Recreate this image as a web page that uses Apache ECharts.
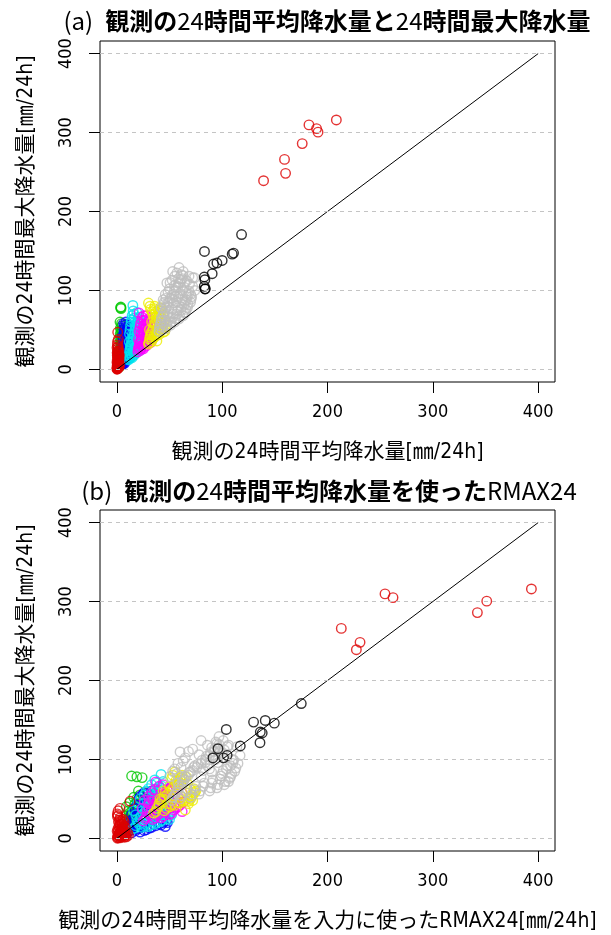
<!DOCTYPE html>
<html>
<head>
<meta charset="utf-8">
<script src="https://cdn.jsdelivr.net/npm/echarts@6/dist/echarts.min.js"></script>
<style>
  html, body { margin: 0; padding: 0; background: #fff; }
  #chart { width: 611px; height: 935px; }
</style>
</head>
<body>
<div id="chart"></div>
<script>
// Station events grouped into nine classes of observed 24h mean rainfall.
// Each row: [observed 24h mean, observed 24h max, RMAX24 from observed mean]  (mm/24h)
const class1Red = [
  [0.1,0.2,0.5],[0.2,0.8,1.2],[0.3,1.5,0.8],[0.4,2.5,2],[0.5,0.6,3],[0.6,3.5,1.5],
  [0.7,1.8,4],[0.8,5,2.5],[0.9,2.8,5.5],[1.0,7,3],[1.1,4.2,6.5],[1.2,9,4],
  [1.3,1.5,7],[1.4,6,7.5],[1.5,11,5],[1.6,3.5,8],[1.7,8,6],[1.8,13,4.5],
  [1.9,5.5,8.5],[2.0,10,7],[0.4,12,1],[0.6,15,2],[0.9,17,3],[1.2,19,4.5],
  [1.5,16,6],[2.1,14,8],[2.2,7,10],[0.3,21,1.5],[0.7,23,2.5],[1.0,26,3],
  [1.3,29,1],[0.5,31,0.5],[0.8,47,12.6],[0.2,27.5,0.6],[1.6,21,7],[2.3,3,3.5],
  [0.1,9,0.3],[2.4,18,5],[2.0,4,11],[1.1,2,9],
  [0.2,4,1],[0.5,6,2],[0.9,9,1.5],[1.3,12,3],[1.7,15,5],[2.1,5,6],
  [0.4,18,2.5],[1.1,22,4],[1.9,24,6],[0.6,35,1.2],[1.4,38,3]
];
const class2Green = [
  [2.5,3,4],[2.7,5,6],[2.9,8,5],[3.0,11,8],[3.1,14,7],[3.2,6,9],[3.4,18,10],
  [3.5,22,11],[3.6,9,10.5],[3.7,26,12],[3.8,30,13],[3.9,15,12.5],[4.0,34,14],
  [4.1,20,15],[4.2,38,16],[4.3,12,14],[4.4,43,17],[4.5,28,18],[4.6,48,20],
  [4.7,55,22],[3.0,60,20.5],[3.3,52,16],[3.8,79,14],[3.6,78,19],[4.0,77,24],
  [2.8,40,9],[4.8,36,21],[3.2,45,12],[4.9,50,27],[4.4,58,29],
  [2.6,4,5],[2.8,7,7],[3.0,10,6],[3.2,13,9],[3.4,16,8],[3.6,20,11],[3.8,24,10],
  [4.0,28,13],[4.2,32,12],[4.4,25,16],[4.6,40,18],[4.8,45,23],[3.5,35,11],[4.1,50,19]
];
const class3Blue = [
  [5,6,8],[5.2,9,10],[5.5,12,12],[5.8,16,11],[6,7,14],[6.2,20,15],[6.5,10,18],
  [6.8,24,17],[7,13,20],[7.2,28,19],[7.5,8,22],[7.8,32,21],[8,17,25],[8.2,36,23],
  [8.5,11,28],[8.8,40,25],[9,21,30],[9.2,44,27],[9.5,14,33],[9.8,48,30],
  [10,26,35],[10.3,52,32],[10.6,18,40],[11,56,30],[11.3,31,42],[11.6,22,47],
  [12,38,45],[6.4,58,26],[7.6,53,22],[8.6,60,33],[9.6,35,38],[10.8,45,40],
  [5.4,42,19],[12.3,15,46],[7.0,46,28],[8.4,30,36],
  [5.1,7.5,9],[5.3,11,13],[5.6,14,10],[5.9,18,16],[6.1,9,12],[6.3,22,13],[6.6,12,20],
  [6.9,26,16],[7.1,15,24],[7.4,30,18],[7.7,10,26],[7.9,34,24],[8.1,19,27],[8.3,38,20],
  [8.7,13,31],[8.9,42,28],[9.1,23,34],[9.4,46,29],[9.7,16,37],[9.9,50,34],
  [10.2,28,38],[10.5,54,36],[10.8,20,44],[11.2,33,39],[11.5,24,43],[11.9,40,41],
  [12.2,17,42],[12.6,29,45],[6.7,50,21],[7.3,56,25],[8.0,48,30],[9.3,57,36],
  [5.7,30,14],[6.0,38,17],[12.8,45,38],[13.0,20,48]
];
const class4Cyan = [
  [11,12,15],[11.5,16,18],[12,21,20],[12.5,14,24],[13,26,22],[13.5,18,27],
  [14,31,25],[14.5,15,30],[15,36,28],[15.5,22,33],[16,41,30],[16.5,18,36],
  [17,46,33],[17.5,27,38],[18,51,36],[18.5,21,41],[19,56,38],[19.5,33,44],
  [20,61,40],[20.5,25,47],[21,66,43],[21.5,38,50],[12,45,20],[13,55,26],
  [14,63,30],[15.2,81,42],[16,70,38],[13.5,38,24],[18,30,45],[20,45,48],
  [22,30,52],[11.8,35,16],[17,60,35],[19,72,44],
  [11.2,13,17],[11.7,18,21],[12.2,24,19],[12.7,16,26],[13.2,29,23],[13.7,20,29],
  [14.2,34,27],[14.7,17,32],[15.2,39,30],[15.7,25,35],[16.2,44,32],[16.7,20,38],
  [17.2,49,35],[17.7,29,40],[18.2,54,38],[18.7,23,43],[19.2,59,40],[19.7,35,46],
  [20.2,64,42],[20.7,28,49],[21.2,42,45],[21.7,33,51],[12.5,50,22],[13.5,60,28],
  [14.5,68,33],[15.5,74,36],[16.5,65,40],[17.5,55,42],[18.5,40,47],[19.5,48,50],
  [20.5,55,46],[12.8,30,18],[14.8,45,26],[16.8,33,43],[21.8,50,48],[22.0,24,50]
];
const class5Magenta = [
  [20,22,25],[20.8,27,28],[21.5,32,30],[22.2,24,34],[23,37,33],[23.8,29,38],
  [24.5,42,36],[25.2,26,42],[26,47,40],[26.8,33,45],[27.5,52,43],[28.2,30,50],
  [29,57,47],[29.8,36,54],[30.5,62,50],[31.2,40,58],[32,34,62],[21,48,26],
  [22.5,58,33],[24,66,40],[21,71.5,37],[25,55,45],[27,39,52],[29,45,56],
  [30.5,50,60],[23,44,30],[26,62,48],[28,68,55],[31,46,63],
  [20.3,25,27],[21.0,29,32],[21.8,35,29],[22.6,26,36],[23.4,40,35],[24.2,31,40],
  [24.9,45,38],[25.6,28,44],[26.4,50,42],[27.2,35,47],[27.9,55,45],[28.6,32,52],
  [29.4,60,49],[30.2,38,56],[31.0,65,52],[31.6,42,60],[22.0,53,30],[23.5,62,36],
  [25.5,68,44],[27.5,63,50],[29.5,53,58],[31.5,57,62],[24.5,50,34],[26.5,57,46],
  [28.5,42,54],[20.5,38,24],[22.8,47,31]
];
const class6Yellow = [
  [30,32,35],[31,38,38],[32,44,40],[33,35,45],[34,50,43],[35,40,50],[36,56,48],
  [37,42,55],[38,62,52],[39,45,60],[40,68,57],[41,48,65],[42,74,60],[43,50,70],
  [44,55,72],[45,60,75],[46,52,70],[30,84,55],[32,76,52],[34,70,58],[36,80,62],
  [38,36,65],[40,44,68],[42,58,73],[44,47,68],[33,60,44],[35,66,50],[37,73,58],
  [39,52,62],[41,78,66],
  [30.5,34,37],[31.5,41,40],[32.5,47,42],[33.5,38,47],[34.5,53,45],[35.5,43,52],
  [36.5,59,50],[37.5,45,57],[38.5,65,54],[39.5,48,62],[40.5,71,59],[41.5,51,67],
  [42.5,77,62],[43.5,53,71],[44.5,58,74],[45.5,63,73],[31.5,80,53],[33.5,73,56],
  [35.5,77,60],[37.5,68,61],[39.5,75,64],[41.5,62,70],[43.5,69,67],[45.5,48,72],
  [31,50,41],[33,44,48],[35,58,46]
];
const class7Gray = [
  [40,48,52],[41,55,55],[42,62,58],[43,50,60],[44,68,62],[45,58,66],[46,74,64],
  [47,52,70],[48,80,68],[49,62,74],[50,86,72],[51,56,78],[52,90,76],[53,66,82],
  [54,95,80],[55,60,88],[56,100,84],[57,70,90],[58,105,88],[59,64,95],[60,110,92],
  [61,75,98],[62,115,96],[63,68,102],[64,82,100],[65,72,106],[66,88,104],[67,78,108],
  [68,95,110],[70,85,112],[72,116,114],[74,100,110],[59,129,97],[73.7,116,105],
  [58.6,115,90],[47.5,109.5,60],[44,88,55],[46,95,58],[50,102,65],[52,76,62],
  [54,84,70],[56,92,74],[58,78,80],[60,96,84],[62,88,88],[64,104,92],[66,96,96],
  [48,70,58],[42,78,50],[45,85,53],[55,118,86],[57,122,94],[63,124,101],
  [69,108,100],[71,92,108],
  [40.5,52,53],[41.5,58,56],[42.5,66,59],[43.5,54,61],[44.5,72,63],[45.5,62,67],
  [46.5,78,65],[47.5,56,71],[48.5,84,69],[49.5,66,75],[50.5,90,73],[51.5,60,79],
  [52.5,94,77],[53.5,70,83],[54.5,99,81],[55.5,64,89],[56.5,104,85],[57.5,74,91],
  [58.5,109,89],[59.5,68,96],[60.5,114,93],[61.5,79,99],[62.5,119,97],[63.5,72,103],
  [64.5,86,101],[65.5,76,107],[66.5,92,105],[67.5,82,109],[68.5,99,111],[70.5,89,113],
  [44.5,82,57],[46.5,90,61],[48.5,98,63],[50.5,110,68],[52.5,113,72],[54.5,106,78],
  [56.5,86,82],[58.5,92,86],[60.5,84,90],[62.5,100,94],[64.5,110,98],[66.5,112,102],
  [68.5,118,106],[53,124,80],[61,120,95],[70,95,115],[72,105,117]
];
const class8Black = [
  [118.4,170.8,175.1],[83.2,149.4,140.9],[110.8,147.3,129.8],[109.5,146,149.5],
  [100,138,103.9],[95,134.7,136.2],[91.8,133.5,138],[90.5,121.2,135.9],
  [83,117,117.2],[83.6,113.6,96],[83,105.2,104.7],[83.6,101.9,91.2],[84,102,101.3]
];
const class9Red = [
  [139.3,239,227.4],[160.2,248.3,230.9],[159.2,266,213.1],[176,286,342.3],
  [182.4,309.7,254.6],[189.6,305,262.2],[191,300.5,351.2],[208.4,316,393.6]
];
const axisTicks = [0, 100, 200, 300, 400];
const identityLine = [[0, 0], [400, 400]];

const titleA = ['(a)', '観測の', '24', '時間平均降水量と', '24', '時間最大降水量'];
const titleB = ['(b)', '観測の', '24', '時間平均降水量を使った', 'RMAX24'];
const xNameA = '観測の24時間平均降水量[㎜/24h]';
const xNameB = '観測の24時間平均降水量を入力に使ったRMAX24[㎜/24h]';
const yName = '観測の24時間最大降水量[㎜/24h]';

// drawing order: later entries are painted on top
const layers = [
  { rows: class2Green,   color: '#00c800' },
  { rows: class3Blue,    color: '#0000ff' },
  { rows: class4Cyan,    color: '#00e5ee' },
  { rows: class5Magenta, color: '#ff00ff' },
  { rows: class6Yellow,  color: '#eeee00' },
  { rows: class7Gray,    color: '#bebebe' },
  { rows: class8Black,   color: '#000000' },
  { rows: class9Red,     color: '#dd0000' },
  { rows: class1Red,     color: '#dd0000' }
];

const LATIN = "'Liberation Sans Narrow','DejaVu Sans Condensed','Liberation Sans','Noto Sans CJK JP',sans-serif";
const CJK = "'Noto Sans CJK JP','Noto Sans CJK SC',sans-serif";

const panels = [
  { top: 41,  xName: xNameA, pick: r => [r[0], r[1]] },
  { top: 510, xName: xNameB, pick: r => [r[2], r[1]] }
];

const grids = panels.map(p => ({
  left: 100, top: p.top, width: 455, height: 341,
  show: true, borderColor: '#000', borderWidth: 1, backgroundColor: 'transparent'
}));

function axisCommon(idx) {
  return {
    type: 'value', gridIndex: idx, min: -16, max: 416,
    axisLine: { show: false, onZero: false },
    axisTick: { show: true, customValues: axisTicks, length: 11, lineStyle: { color: '#000', width: 1 } },
    splitLine: { show: false },
    nameTextStyle: { fontFamily: LATIN, fontSize: 21, color: '#000' }
  };
}

const xAxes = panels.map((p, i) => Object.assign(axisCommon(i), {
  name: p.xName, nameLocation: 'middle', nameGap: 60,
  axisLabel: { customValues: axisTicks, margin: 21, fontFamily: LATIN, fontSize: 18, color: '#000' }
}));
const yAxes = panels.map((p, i) => Object.assign(axisCommon(i), {
  name: yName, nameLocation: 'middle', nameGap: 63, nameRotate: 90,
  axisLabel: { customValues: axisTicks, margin: 25, rotate: 90, fontFamily: LATIN, fontSize: 18, color: '#000' }
}));

const series = [];
panels.forEach((p, i) => {
  // dashed horizontal guides
  series.push({
    type: 'scatter', xAxisIndex: i, yAxisIndex: i, data: [], z: 1, silent: true,
    markLine: {
      silent: true, symbol: 'none', animation: false,
      label: { show: false },
      lineStyle: { color: '#c4c4c4', type: [4, 4], width: 1 },
      data: axisTicks.map(v => ({ yAxis: v }))
    }
  });
  layers.forEach(l => {
    series.push({
      type: 'scatter', xAxisIndex: i, yAxisIndex: i, z: 2, silent: true,
      symbol: 'circle', symbolSize: 9.5, large: false,
      itemStyle: { color: 'rgba(0,0,0,0)', borderColor: l.color, borderWidth: 1.4 },
      data: l.rows.map(p.pick)
    });
  });
  // 1:1 reference line
  series.push({
    type: 'line', xAxisIndex: i, yAxisIndex: i, z: 3, silent: true,
    data: identityLine, symbol: 'none',
    lineStyle: { color: '#000', width: 1 }
  });
});

function richTitle(parts) {
  return parts.map((t, k) => {
    if (k === 0) return '{r|' + t + '}{sp| }';
    return (/^[0-9A-Z]+$/.test(t) ? '{n|' : '{b|') + t + '}';
  }).join('');
}
// same font family for every token keeps the baselines aligned
const titleRich = {
  r:  { fontFamily: CJK, fontSize: 24, fontWeight: 'normal', color: '#000', lineHeight: 30 },
  sp: { fontFamily: CJK, fontSize: 24, fontWeight: 'normal', width: 12, lineHeight: 30 },
  n:  { fontFamily: CJK, fontSize: 24, fontWeight: 'normal', color: '#000', lineHeight: 30 },
  b:  { fontFamily: CJK, fontSize: 24, fontWeight: 'bold', color: '#000', lineHeight: 30 }
};

const chart = echarts.init(document.getElementById('chart'), null, { renderer: 'canvas' });
chart.setOption({
  animation: false,
  backgroundColor: '#fff',
  title: [
    { text: richTitle(titleA), left: 327, top: 6, textAlign: 'center', padding: 0,
      textStyle: { fontWeight: 'normal', rich: titleRich } },
    { text: richTitle(titleB), left: 329, top: 476, textAlign: 'center', padding: 0,
      textStyle: { fontWeight: 'normal', rich: titleRich } }
  ],
  grid: grids,
  xAxis: xAxes,
  yAxis: yAxes,
  series: series
});
</script>
</body>
</html>
